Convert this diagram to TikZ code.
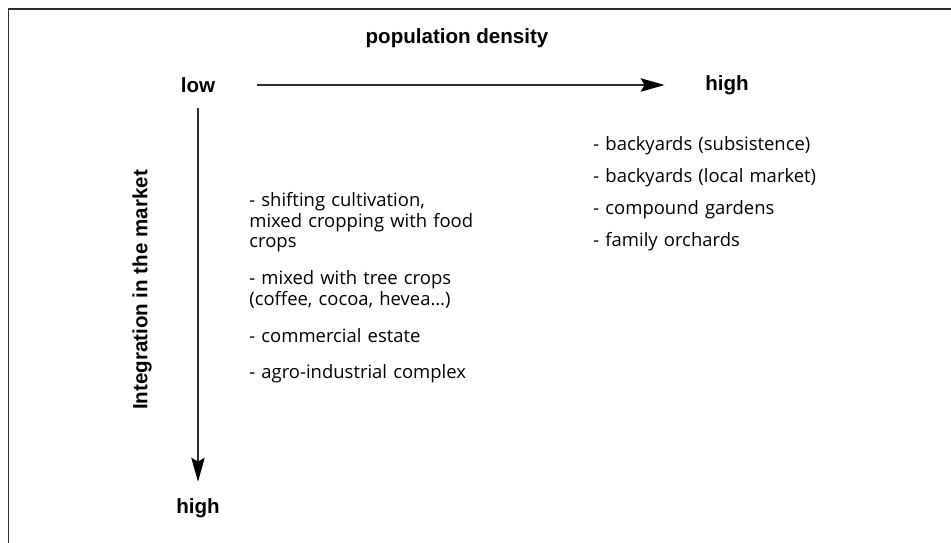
\documentclass[tikz,border=0pt]{standalone}
\usepackage{fontspec}
\setmainfont{Open Sans}
\newfontfamily\labelfont{Liberation Sans}
\usetikzlibrary{arrows.meta,positioning}
\definecolor{ink}{RGB}{45,45,45}
\tikzset{
  >={Stealth[length=4.8mm,width=2.7mm,inset=0.8mm,color=black]},
  axislabel/.style={font=\labelfont\bfseries\fontsize{11.7}{14}\selectfont,text=black},
  axis/.style={->,draw=ink,line width=0.65pt},
  item/.style={font=\fontsize{10.5}{11.4}\selectfont,align=left,text width=5.2cm,
    anchor=base west,inner sep=0pt},
}

\begin{document}
\begin{tikzpicture}
  \useasboundingbox (0,0) rectangle (19.02,10.86);
  % frame
  \draw[ink,line width=0.9pt] (0.17,0) -- (0.17,10.68) -- (19.02,10.68);
  % axes
  \node[axislabel] (low) at (3.96,9.16) {low};
  \node[axislabel] (hix) at (14.54,9.16) {high};
  \node[axislabel] (hiy) at (3.96,0.70) {high};
  \node[axislabel] (dens) at (9.14,10.10) {population density};
  \node[axislabel,rotate=90] (market) at (2.84,5.06) {Integration in the market};
  \draw[axis,shorten <=0.72cm,shorten >=0.69cm] (low) -- (hix);
  \draw[axis,shorten <=0.19cm,shorten >=0.21cm] (low) -- (hiy);
  % low density
  \node[item] (shift) at (4.98,6.72) {- shifting cultivation,\\ mixed cropping with food\\ crops};
  \node[item] (tree) at (4.98,5.16) {- mixed with tree crops\\ (coffee, cocoa, hevea…)};
  \node[item] (estate) at (4.98,4.00) {- commercial estate};
  \node[item] (agro) at (4.98,3.28) {- agro-industrial complex};
  % high density
  \foreach \t [count=\i] in {backyards (subsistence),backyards (local market),compound gardens,family orchards}
    \node[item] (yard\i) at (11.86,{7.84-0.634*(\i-1)}) {- \t};
\end{tikzpicture}
\end{document}
